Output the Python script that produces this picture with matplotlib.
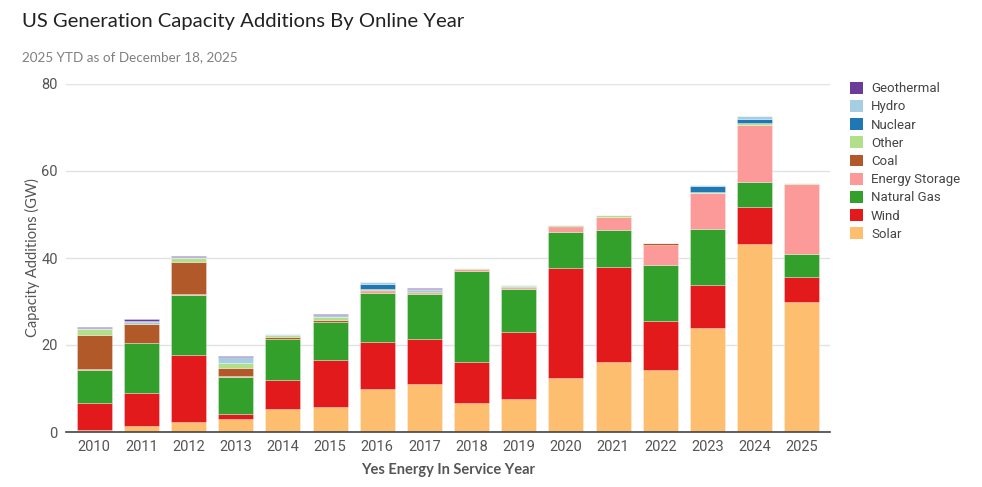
import numpy as np
import matplotlib
matplotlib.use('Agg')
import matplotlib.pyplot as plt
from matplotlib.patches import Patch

# ========== Data (GW) ========== #
years = ['2010', '2011', '2012', '2013', '2014', '2015', '2016', '2017',
         '2018', '2019', '2020', '2021', '2022', '2023', '2024', '2025']
solar      = [0.5, 1.3, 2.4, 3.0, 5.2, 5.75, 10.0, 11.0, 6.6, 7.7, 12.5, 16.2, 14.25, 24.0, 43.2, 29.8]
wind       = [6.1, 7.7, 15.3, 1.1, 6.8, 10.8, 10.8, 10.3, 9.4, 15.4, 25.3, 21.8, 11.25, 9.7, 8.45, 5.9]
natgas     = [7.7, 11.4, 13.8, 8.5, 9.3, 8.65, 11.1, 10.4, 21.0, 9.8, 8.2, 8.4, 13.0, 13.0, 5.85, 5.2]
storage    = [0.1, 0.1, 0.2, 0.2, 0.1, 0.2, 0.6, 0.3, 0.5, 0.3, 1.1, 3.1, 4.5, 8.3, 13.15, 16.0]
coal       = [8.0, 4.3, 7.3, 1.9, 0.5, 0.3, 0.1, 0.1, 0.0, 0.1, 0.2, 0.0, 0.4, 0.0, 0.0, 0.0]
other      = [1.3, 0.3, 0.9, 1.1, 0.3, 0.8, 0.3, 0.3, 0.2, 0.3, 0.2, 0.3, 0.1, 0.2, 0.35, 0.4]
nuclear    = [0.0, 0.1, 0.0, 0.0, 0.1, 0.0, 1.1, 0.3, 0.0, 0.0, 0.0, 0.0, 0.0, 1.4, 0.9, 0.0]
hydro      = [0.3, 0.4, 0.3, 1.5, 0.2, 0.5, 0.4, 0.2, 0.1, 0.2, 0.1, 0.1, 0.0, 0.2, 0.8, 0.0]
geothermal = [0.2, 0.3, 0.3, 0.2, 0.1, 0.1, 0.0, 0.3, 0.0, 0.1, 0.0, 0.0, 0.0, 0.0, 0.0, 0.0]

# bottom -> top
series = [('Solar', solar, '#fdbf6f'),
          ('Wind', wind, '#e31a1c'),
          ('Natural Gas', natgas, '#33a02c'),
          ('Energy Storage', storage, '#fb9a99'),
          ('Coal', coal, '#b15928'),
          ('Other', other, '#b2df8a'),
          ('Nuclear', nuclear, '#1f78b4'),
          ('Hydro', hydro, '#a6cee3'),
          ('Geothermal', geothermal, '#6a3d9a')]

# ========== Figure ========== #
fig = plt.figure(figsize=(9.82, 4.87), dpi=100)
ax = fig.add_axes([66/982, (487-432)/487, (830-66)/982, (432-84)/487])

x = np.arange(len(years))
bottom = np.zeros(len(years))
for name, vals, col in series:
    vals = np.array(vals)
    ax.bar(x, vals, bottom=bottom, width=0.74, color=col,
           edgecolor=(1, 1, 1, 0.35), linewidth=0.6, zorder=3)
    bottom += vals

ax.set_xlim(-0.6, len(years) - 0.4)
ax.set_ylim(0, 80)
ax.set_yticks([0, 20, 40, 60, 80])
ax.set_xticks(x)
ax.set_xticklabels(years)
ax.grid(axis='y', color='#e2e2e2', linewidth=1, zorder=0)
for s in ['top', 'right', 'left']:
    ax.spines[s].set_visible(False)
ax.spines['bottom'].set_color('#444444')
ax.spines['bottom'].set_linewidth(1.2)
ax.spines['bottom'].set_zorder(5)
ax.tick_params(axis='x', length=0, pad=6, labelsize=10.5, labelcolor='#555555')
ax.tick_params(axis='y', length=0, pad=6, labelsize=10.5, labelcolor='#555555')
for lab in ax.get_xticklabels() + ax.get_yticklabels():
    lab.set_family('Roboto')

ax.set_ylabel('Capacity Additions (GW)', family='Lato', fontsize=10.5,
              color='#555555', labelpad=1)
ax.set_xlabel('Yes Energy In Service Year', family='Lato', fontsize=10.5,
              fontweight='bold', color='#555555', labelpad=6)

# Titles
fig.text(22/982, 1 - 22/487, 'US Generation Capacity Additions By Online Year',
         family='Lato', fontsize=14.6, color='#222222', va='center')
fig.text(22/982, 1 - 57/487, '2025 YTD as of December 18, 2025',
         family='Lato', fontsize=9.7, color='#808080', va='center')

# Legend (top -> bottom)
handles = [Patch(facecolor=col, edgecolor='none', label=name)
           for name, vals, col in series[::-1]]
leg = fig.legend(handles=handles, loc='upper left',
                 bbox_to_anchor=(838/982, 1 - 70/487), frameon=False,
                 handlelength=1.0, handleheight=1.0, handletextpad=0.6,
                 labelspacing=0.36, prop={'family': 'Roboto', 'size': 9.5})
for t in leg.get_texts():
    t.set_color('#444444')

fig.savefig('out.png', dpi=100)
